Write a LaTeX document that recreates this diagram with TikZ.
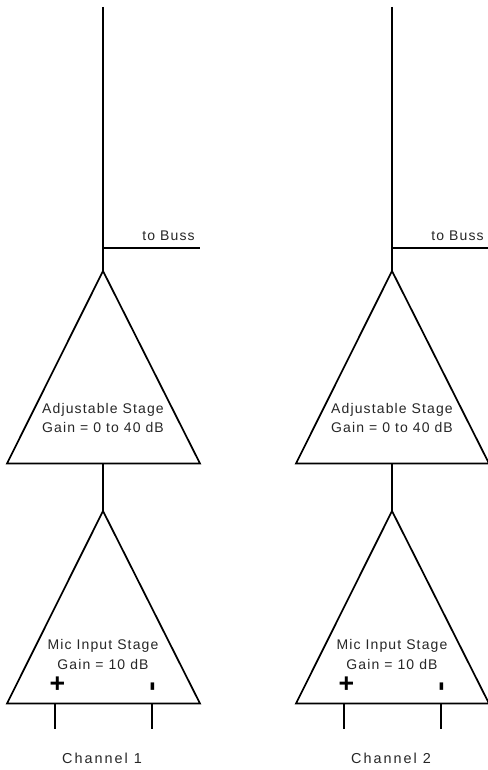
\documentclass[tikz,border=0pt]{standalone}
\usepackage{fontspec}
\setmainfont{Liberation Sans}
\newfontfamily\spaced[LetterSpace=8]{Liberation Sans}
\newfontfamily\spacedw[LetterSpace=14]{Liberation Sans}
\tikzset{x=0.75pt,y=-0.75pt,
 wire/.style={draw=black,line width=1.3pt},
 amp/.style={draw=black,line width=1.3pt,line join=miter},
 lbl/.style={font=\spaced\fontsize{10.5pt}{14.6pt}\selectfont,text=black!85,inner sep=0pt,align=center},
 chanlbl/.style={font=\spacedw\fontsize{10.8pt}{12pt}\selectfont,text=black!85,inner sep=0pt},
 sign/.style={font=\bfseries\fontsize{20pt}{20pt}\selectfont,text=black,inner sep=0pt},
 tick/.style={font=\bfseries\fontsize{22pt}{22pt}\selectfont,text=black,inner sep=0pt}}
\begin{document}
\begin{tikzpicture}
\useasboundingbox (0,0) rectangle (487,770);
\foreach \dx/\ch in {0/1,289/2}{
\begin{scope}[shift={(\dx,0)}]
 \coordinate (top\ch) at (103,7);
 \coordinate (bt\ch) at (103,271);
 \coordinate (bl\ch) at (7,463.5);
 \coordinate (br\ch) at (200,463.5);
 \coordinate (mt\ch) at (103,511);
 \coordinate (ml\ch) at (7,703.5);
 \coordinate (mr\ch) at (200,703.5);
 \coordinate (midb\ch) at (103,463.5);
 \coordinate (tap\ch) at (103,248);
 \coordinate (busend\ch) at (200,248);
 \coordinate (inp\ch) at (55,703.5);
 \coordinate (inpe\ch) at (55,729);
 \coordinate (inm\ch) at (152,703.5);
 \coordinate (inme\ch) at (152,729);
 \draw[wire] (top\ch) -- (bt\ch);
 \draw[wire] (tap\ch) -- (busend\ch);
 \draw[amp] (bt\ch) -- (br\ch) -- (bl\ch) -- cycle;
 \draw[wire] (midb\ch) -- (mt\ch);
 \draw[amp] (mt\ch) -- (mr\ch) -- (ml\ch) -- cycle;
 \draw[wire] (inp\ch) -- (inpe\ch);
 \draw[wire] (inm\ch) -- (inme\ch);
 \node[lbl] (bus\ch) at (168.5,236) {to Buss};
 \node[lbl] (adj\ch) at (103,418) {Adjustable Stage\\Gain = 0 to 40 dB};
 \node[lbl] (mic\ch) at (103,654.5) {Mic Input Stage\\Gain = 10 dB};
 \node[sign] (plus\ch) at (57.5,685) {+};
 \node[tick,rotate=90] (minus\ch) at (156,686.5) {-};
 \node[chanlbl] (chan\ch) at (102,758) {Channel \ch};
\end{scope}}
\end{tikzpicture}
\end{document}
